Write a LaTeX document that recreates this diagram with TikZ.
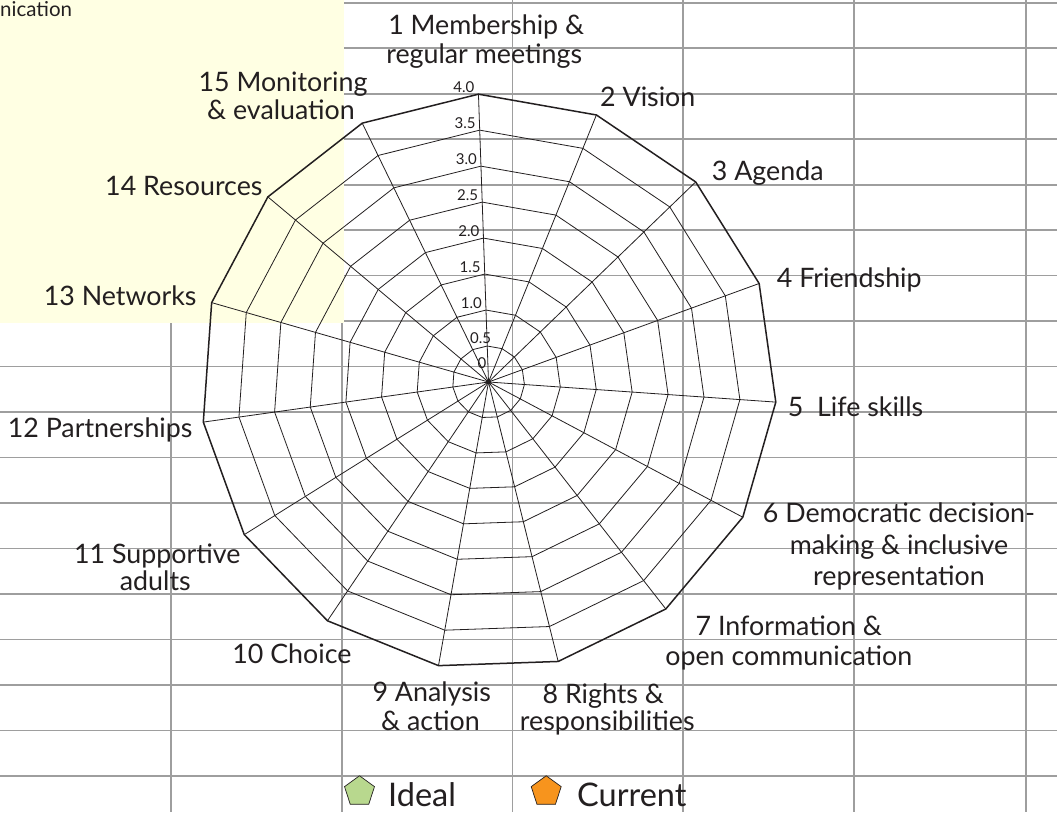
\documentclass[tikz,border=0pt]{standalone}
\usepackage{fontspec}
\setmainfont{Lato}
\usetikzlibrary{shapes.geometric}
\definecolor{gridc}{RGB}{158,158,158}
\definecolor{paleyellow}{RGB}{255,255,227}
\definecolor{ink}{RGB}{35,31,32}
\definecolor{idealgreen}{RGB}{184,216,142}
\definecolor{currorange}{RGB}{247,148,29}
\begin{document}
\begin{tikzpicture}[x=1pt,y=-1pt,
  gridline/.style={draw=gridc,line width=1.7pt},
  webline/.style={draw=ink,line width=0.8pt},
  rimline/.style={draw=ink,line width=1.5pt,line join=round},
  lbl/.style={text=ink,inner sep=0pt,font=\fontsize{26.8}{30}\selectfont},
  scl/.style={text=ink,inner sep=0pt,font=\fontsize{15}{18}\selectfont,anchor=base east},
  legtxt/.style={text=ink,inner sep=0pt,font=\fontsize{32.5}{38}\selectfont,anchor=base west},
  pent/.style={regular polygon,regular polygon sides=5,minimum size=31.5pt,inner sep=0pt,draw=ink,line width=0.7pt}
]
\useasboundingbox (0,0) rectangle (1057,812);
\fill[white] (0,0) rectangle (1057,812);
% spreadsheet grid
\foreach \k in {0,...,17} {
  \draw[gridline] (0,{2.7+45.49*\k}) -- (1057,{2.7+45.49*\k});
}
\foreach \xx in {170.7,341.7,512.5,683.3,854.3,1025.7} {
  \draw[gridline] (\xx,0) -- (\xx,812);
}
% yellow panel
\fill[paleyellow] (0,0) rectangle (344,323);
\node[text=ink,inner sep=0pt,anchor=base west,font=\fontsize{20.5}{24}\selectfont] (cut) at (0,16.7) {nication};
% radar web
\coordinate (c) at (488.5,382);
\foreach \k in {1,...,15} {
  \pgfmathsetmacro\ang{92-24*(\k-1)}
  \foreach \j in {1,...,8} {
    \coordinate (p\k-\j) at ({488.5+36*\j*cos(\ang)},{382-36*\j*sin(\ang)});
  }
}
\foreach \k in {1,...,15} { \draw[webline] (c) -- (p\k-8); }
\foreach \j in {1,...,7} {
  \draw[webline] (p1-\j) -- (p2-\j) -- (p3-\j) -- (p4-\j) -- (p5-\j) -- (p6-\j) -- (p7-\j) -- (p8-\j) -- (p9-\j) -- (p10-\j) -- (p11-\j) -- (p12-\j) -- (p13-\j) -- (p14-\j) -- (p15-\j) -- cycle;
}
\draw[rimline] (p1-8) -- (p2-8) -- (p3-8) -- (p4-8) -- (p5-8) -- (p6-8) -- (p7-8) -- (p8-8) -- (p9-8) -- (p10-8) -- (p11-8) -- (p12-8) -- (p13-8) -- (p14-8) -- (p15-8) -- cycle;
\fill[ink] (c) circle (2.5);
% scale labels
\foreach \j/\t in {2/1.0,3/1.5,4/2.0,5/2.5,6/3.0,7/3.5,8/4.0} {
  \node[scl] (s\j) at ([xshift=-4pt,yshift=2pt]p1-\j) {\t};
}
\node[scl] (s1) at ([xshift=4pt,yshift=2.7pt]p1-1) {0.5};
\node[scl] (s0) at ([xshift=-2pt,yshift=14pt]c) {0};
% axis labels
\node[lbl,anchor=base] (l1a) at (486.2,34.3) {1 Membership \&};
\node[lbl,anchor=base] (l1b) at (484.2,63.3) {regular meetings};
\node[lbl,anchor=base west] (l2) at (600,106) {2 Vision};
\node[lbl,anchor=base west] (l3) at (711.7,180) {3 Agenda};
\node[lbl,anchor=base west] (l4) at (776.7,287.3) {4 Friendship};
\node[lbl,anchor=base west] (l5) at (787.7,416) {5\ \ Life skills};
\node[lbl,anchor=base] (l6a) at (899,522.7) {6 Democratic decision-};
\node[lbl,anchor=base] (l6b) at (899,554) {making \& inclusive};
\node[lbl,anchor=base] (l6c) at (899,585.7) {representation};
\node[lbl,anchor=base] (l7a) at (788.8,635) {7 Information \&};
\node[lbl,anchor=base] (l7b) at (788.8,665) {open communication};
\node[lbl,anchor=base] (l8a) at (603.3,703.3) {8 Rights \&};
\node[lbl,anchor=base] (l8b) at (607.3,730.7) {responsibilities};
\node[lbl,anchor=base] (l9a) at (431.7,701.7) {9 Analysis};
\node[lbl,anchor=base] (l9b) at (430.5,730.7) {\& action};
\node[lbl,anchor=base east] (l10) at (351.7,663.3) {10 Choice};
\node[lbl,anchor=base] (l11a) at (157.2,563.3) {11 Supportive};
\node[lbl,anchor=base] (l11b) at (155.3,590.7) {adults};
\node[lbl,anchor=base east] (l12) at (192.7,437.3) {12 Partnerships};
\node[lbl,anchor=base east] (l13) at (196.7,305) {13 Networks};
\node[lbl,anchor=base east] (l14) at (262.7,195) {14 Resources};
\node[lbl,anchor=base] (l15a) at (283,91.7) {15 Monitoring};
\node[lbl,anchor=base] (l15b) at (281,119.3) {\& evaluation};
% legend
\node[pent,fill=idealgreen] (gpent) at (359.5,791.5) {};
\node[legtxt] (ideal) at (388,806.7) {Ideal};
\node[pent,fill=currorange] (opent) at (546.2,791.5) {};
\node[legtxt] (current) at (577,806.7) {Current};
\end{tikzpicture}
\end{document}
